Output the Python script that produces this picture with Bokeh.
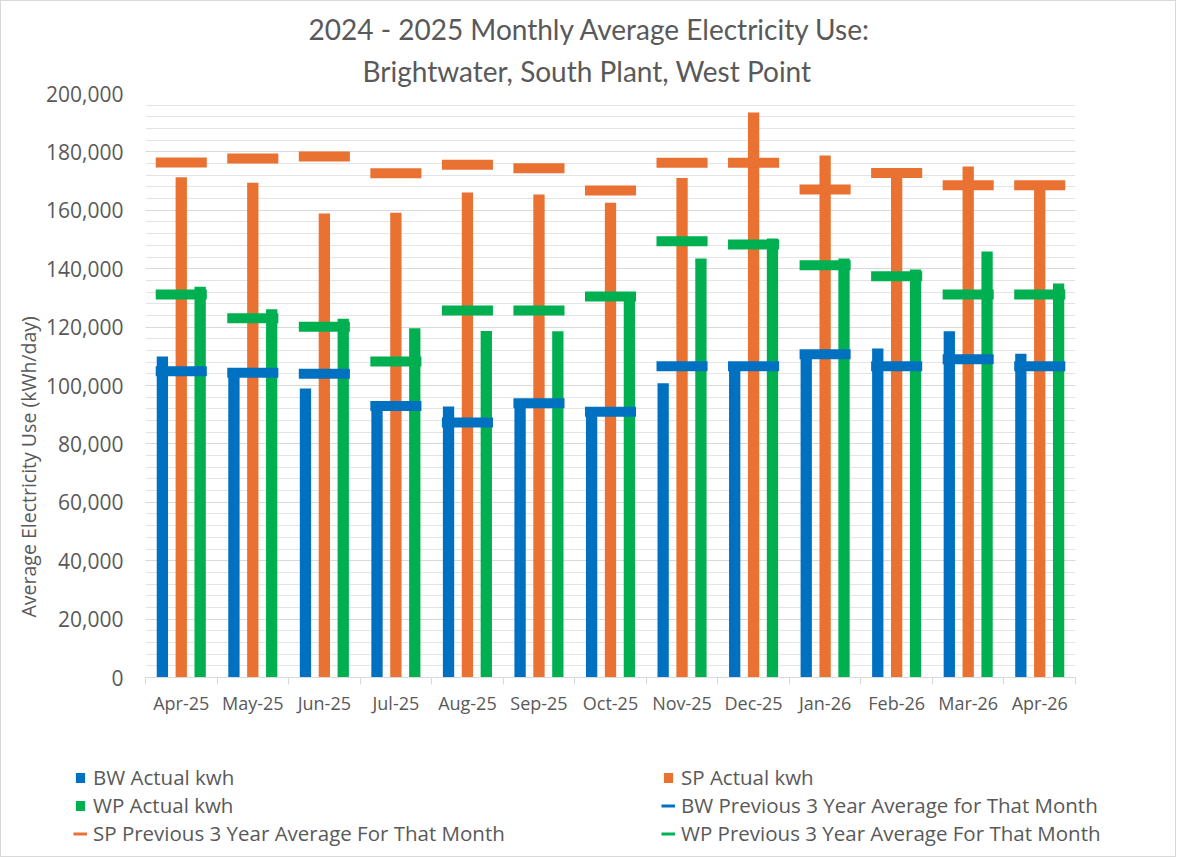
import numpy as np
from bokeh.plotting import figure
from bokeh.layouts import column
from bokeh.models import (ColumnDataSource, FixedTicker, NumeralTickFormatter,
                          Legend, LegendItem, Title)
from bokeh.transform import dodge
from bokeh.embed import file_html
from bokeh.resources import INLINE

# Monthly average electricity use, kWh/day
months = ["Apr-25", "May-25", "Jun-25", "Jul-25", "Aug-25", "Sep-25", "Oct-25",
          "Nov-25", "Dec-25", "Jan-26", "Feb-26", "Mar-26", "Apr-26"]

bw_actual = [109900, 105000, 99000, 92000, 92800, 93000, 90500,
             100800, 106000, 110000, 112700, 118600, 110900]
sp_actual = [171300, 169400, 158900, 159200, 166100, 165400, 162600,
             171100, 193500, 178800, 172000, 175000, 168000]
wp_actual = [133800, 126100, 122900, 119600, 118700, 118600, 129500,
             143500, 150300, 143500, 139700, 145900, 134900]

# Previous 3-year average for the same month
bw_avg = [104900, 104400, 104000, 93000, 87300, 93900, 91000,
          106600, 106600, 110700, 106600, 109000, 106600]
sp_avg = [176400, 177700, 178400, 172700, 175600, 174400, 166800,
          176300, 176300, 167100, 172800, 168600, 168600]
wp_avg = [131200, 123000, 120100, 108200, 125700, 125700, 130500,
          149400, 148300, 141200, 137400, 131200, 131200]

y_ticks = list(range(0, 200001, 20000))
y_minor = list(range(0, 200001, 4000))

BLUE = "#0070C0"
ORANGE = "#E97132"
GREEN = "#00B050"
TEXT = "#595959"
GRID = "#d9d9d9"
FONT = "Open Sans"
TITLE_FONT = "Lato"

centers = np.arange(len(months)) + 0.5
src = ColumnDataSource(dict(center=centers, bw_actual=bw_actual, sp_actual=sp_actual,
                            wp_actual=wp_actual, bw_avg=bw_avg, sp_avg=sp_avg, wp_avg=wp_avg))

p = figure(width=1174, height=739, x_range=(0, len(months)), y_range=(0, 200000),
           output_backend="svg", toolbar_location=None, title=None,
           min_border_left=144, min_border_right=100, min_border_top=92, min_border_bottom=63)
p.outline_line_color = None
p.background_fill_color = "white"
p.border_fill_color = "white"

# actual-use bars, three per month
BAR_W = 0.158
OFF = 0.264
p.vbar(x=dodge("center", -OFF), top="bw_actual", width=BAR_W, source=src,
       fill_color=BLUE, line_color=None)
p.vbar(x="center", top="sp_actual", width=BAR_W, source=src,
       fill_color=ORANGE, line_color=None)
p.vbar(x=dodge("center", OFF), top="wp_actual", width=BAR_W, source=src,
       fill_color=GREEN, line_color=None)

# 3-year average markers as thick horizontal dashes
HALF = 0.357
for col, color in (("bw_avg", BLUE), ("sp_avg", ORANGE), ("wp_avg", GREEN)):
    p.segment(x0=dodge("center", -HALF), x1=dodge("center", HALF), y0=col, y1=col,
              source=src, line_color=color, line_width=10)

# x axis: month labels at centres, tick marks at category boundaries
p.xaxis.ticker = FixedTicker(ticks=list(centers), minor_ticks=list(range(len(months) + 1)))
p.xaxis.major_label_overrides = {float(c): m for c, m in zip(centers, months)}
p.xaxis.major_tick_line_color = None
p.xaxis.major_tick_out = 0
p.xaxis.major_tick_in = 0
p.xaxis.minor_tick_line_color = GRID
p.xaxis.minor_tick_out = 7
p.xaxis.minor_tick_in = 0
p.xaxis.axis_line_color = GRID
p.xaxis.major_label_text_font = FONT
p.xaxis.major_label_text_font_size = "18px"
p.xaxis.major_label_text_color = TEXT
p.xaxis.major_label_standoff = 6

# y axis
p.yaxis.ticker = FixedTicker(ticks=y_ticks, minor_ticks=y_minor)
p.yaxis.formatter = NumeralTickFormatter(format="0,0")
p.yaxis.axis_line_color = None
p.yaxis.major_tick_line_color = None
p.yaxis.minor_tick_line_color = None
p.yaxis.major_tick_out = 0
p.yaxis.minor_tick_out = 0
p.yaxis.major_label_standoff = 22
p.yaxis.major_label_text_font = FONT
p.yaxis.major_label_text_font_size = "21px"
p.yaxis.major_label_text_color = TEXT

p.xgrid.grid_line_color = None
p.ygrid.grid_line_color = GRID
p.ygrid.minor_grid_line_color = "#e4e4e4"

# two-line title, lower line added first so it sits next to the plot
p.add_layout(Title(text="Brightwater, South Plant, West Point", align="left", offset=217,
                   text_font=TITLE_FONT, text_font_size="28px", text_font_style="normal",
                   text_color=TEXT, standoff=11), "above")
p.add_layout(Title(text="2024 - 2025 Monthly Average Electricity Use:", align="left", offset=163,
                   text_font=TITLE_FONT, text_font_size="28px", text_font_style="normal",
                   text_color=TEXT, standoff=2), "above")

p.add_layout(Title(text="Average Electricity Use (kWh/day)", align="left", offset=60,
                   text_font=FONT, text_font_size="19.5px", text_font_style="normal",
                   text_color=TEXT, standoff=4), "left")

# legend strip below the chart (its frame spans the full width)
leg = figure(width=1174, height=116, x_range=(0, 1), y_range=(0, 1),
             output_backend="svg", toolbar_location=None, title=None,
             x_axis_type=None, y_axis_type=None,
             min_border_left=0, min_border_right=0, min_border_top=0, min_border_bottom=0)
leg.frame_align = False
leg.outline_line_color = None
leg.xgrid.grid_line_color = None
leg.ygrid.grid_line_color = None

# swatch renderers: one undefined point each, so only their legend glyphs show
nan = [float("nan")]
sw_bw = leg.vbar(x=nan, top=nan, width=0.1, fill_color=BLUE, line_color="white", line_width=2)
sw_sp = leg.vbar(x=nan, top=nan, width=0.1, fill_color=ORANGE, line_color="white", line_width=2)
sw_wp = leg.vbar(x=nan, top=nan, width=0.1, fill_color=GREEN, line_color="white", line_width=2)
sw_bwa = leg.line(x=nan, y=nan, line_color=BLUE, line_width=3)
sw_spa = leg.line(x=nan, y=nan, line_color=ORANGE, line_width=3)
sw_wpa = leg.line(x=nan, y=nan, line_color=GREEN, line_width=3)

legend = Legend(items=[
    LegendItem(label="BW Actual kwh", renderers=[sw_bw]),
    LegendItem(label="SP Actual kwh", renderers=[sw_sp]),
    LegendItem(label="WP Actual kwh", renderers=[sw_wp]),
    LegendItem(label="BW Previous 3 Year Average for That Month", renderers=[sw_bwa]),
    LegendItem(label="SP Previous 3 Year Average For That Month", renderers=[sw_spa]),
    LegendItem(label="WP Previous 3 Year Average For That Month", renderers=[sw_wpa]),
], orientation="horizontal", ncols=2, location=(72, 9),
    glyph_width=14, glyph_height=15, label_standoff=6, label_width=568, spacing=0,
    padding=0, margin=0, border_line_color=None, background_fill_alpha=0,
    label_text_font=FONT, label_text_font_size="20.5px", label_text_color=TEXT)
leg.add_layout(legend)

page = column(p, leg, spacing=0, styles={"border": "1px solid #d9d9d9"})
open("out.html", "w").write(file_html(page, INLINE))
